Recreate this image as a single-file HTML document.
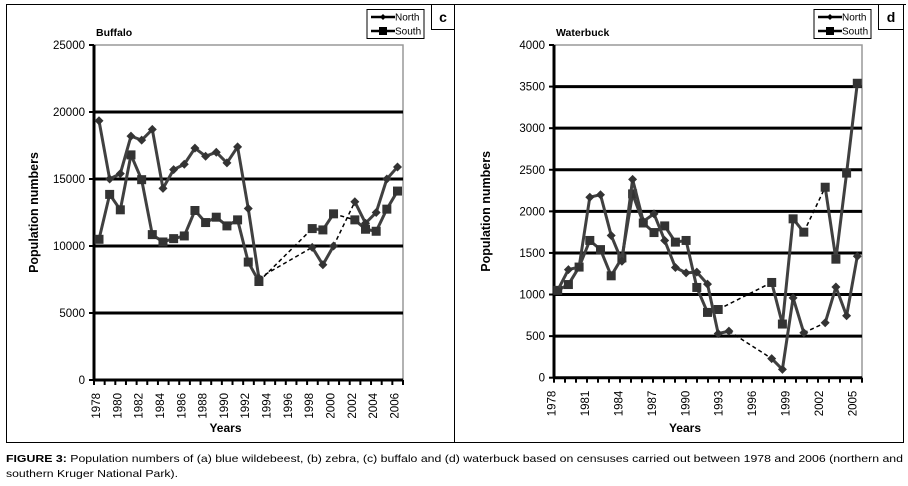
<!DOCTYPE html>
<html><head><meta charset="utf-8"><style>
html,body{margin:0;padding:0;background:#fff;}
svg{display:block;font-family:"Liberation Sans",sans-serif;}
</style></head><body>
<svg id="root" width="908" height="486" viewBox="0 0 908 486" xmlns="http://www.w3.org/2000/svg">
<g stroke="#000" stroke-width="1" fill="none">
<line x1="6" y1="4.5" x2="906" y2="4.5"/>
<line x1="6.5" y1="4" x2="6.5" y2="442"/>
<line x1="454.5" y1="4" x2="454.5" y2="442"/>
<line x1="903.5" y1="4" x2="903.5" y2="442"/>
<line x1="6" y1="442.5" x2="904" y2="442.5"/>
</g>
<g id="chartC"></g>
<g id="chartD"></g>
<text x="6" y="462" font-size="10.5" textLength="897" lengthAdjust="spacingAndGlyphs"><tspan font-weight="bold">FIGURE 3:</tspan> Population numbers of (a) blue wildebeest, (b) zebra, (c) buffalo and (d) waterbuck based on censuses carried out between 1978 and 2006 (northern and</text>
<text x="6" y="477" font-size="10.5" textLength="172" lengthAdjust="spacingAndGlyphs">southern Kruger National Park).</text>
</svg>
<script>
// Buffalo (c)
const cYears = [1978,1979,1980,1981,1982,1983,1984,1985,1986,1987,1988,1989,1990,1991,1992,1993,1998,1999,2000,2002,2003,2004,2005,2006];
const cNorth = [19350,15000,15400,18200,17900,18700,14300,15700,16100,17300,16700,17000,16200,17400,12800,7600,9900,8600,10000,13300,11700,12500,15000,15900];
const cSouth = [10500,13850,12700,16800,14950,10850,10300,10550,10750,12650,11750,12150,11500,11950,8800,7350,11300,11200,12400,11950,11250,11100,12750,14100];
const cYTicks = [0,5000,10000,15000,20000,25000];
const cXLabels = [1978,1980,1982,1984,1986,1988,1990,1992,1994,1996,1998,2000,2002,2004,2006];
// Waterbuck (d)
const dYears = [1978,1979,1980,1981,1982,1983,1984,1985,1986,1987,1988,1989,1990,1991,1992,1993,1994,1998,1999,2000,2001,2003,2004,2005,2006];
const dNorth = [1050,1300,1330,2170,2200,1710,1400,2385,1880,1970,1650,1325,1260,1270,1125,530,560,230,100,960,540,660,1090,745,1460];
const dSouthYears = [1978,1979,1980,1981,1982,1983,1984,1985,1986,1987,1988,1989,1990,1991,1992,1993,1998,1999,2000,2001,2003,2004,2005,2006];
const dSouth = [1050,1120,1330,1650,1540,1225,1440,2210,1860,1745,1825,1630,1650,1085,785,820,1145,645,1910,1750,2290,1425,2460,3540];
const dYTicks = [0,500,1000,1500,2000,2500,3000,3500,4000];
const dXLabels = [1978,1981,1984,1987,1990,1993,1996,1999,2002,2005];

const NS='http://www.w3.org/2000/svg';
function mk(tag,attrs,parent){const e=document.createElementNS(NS,tag);for(const k in attrs)e.setAttribute(k,attrs[k]);parent.appendChild(e);return e;}

function drawChart(g,cfg){
  const {left,right,top,bottom,yMax,x0,x1,y0yr,y1yr}=cfg;
  const xs=yr=>x0+(yr-y0yr)*(x1-x0)/(y1yr-y0yr);
  const ys=v=>bottom-v*(bottom-top)/yMax;
  const bg=mk('rect',{x:left,y:top,width:right-left,height:bottom-top,fill:'#fff',stroke:'#999','stroke-width':1.5},g);
  
  
  cfg.yTicks.forEach(v=>{
    if(v>0){const l=mk('line',{x1:left,x2:right,y1:ys(v),y2:ys(v),stroke:'#000','stroke-width':v===yMax?0:3},g);
      
      }
    const t=mk('text',{x:left-9,y:ys(v)+4,'text-anchor':'end','font-size':11.5},g);
    t.textContent=v;
    
    
    mk('line',{x1:left-5,x2:left,y1:ys(v),y2:ys(v),stroke:'#000','stroke-width':2},g);
  });
  const ax=mk('line',{x1:left,x2:left,y1:top,y2:bottom,stroke:'#000','stroke-width':3},g);
  
  
  const axx=mk('line',{x1:left,x2:right,y1:bottom,y2:bottom,stroke:'#000','stroke-width':3},g);
  
  
  for(let k=0;k<=cfg.nTicks;k++){const x=left+k*(right-left)/cfg.nTicks;mk('line',{x1:x,x2:x,y1:bottom,y2:bottom+5,stroke:'#000','stroke-width':2},g);}
  cfg.xLabels.forEach((yr,i)=>{
    const x=cfg.labelX(yr,i);
    const t=mk('text',{transform:`translate(${x+4},${bottom+13}) rotate(-90)`,'text-anchor':'end','font-size':11.5},g);
    t.textContent=yr;
    
    
  });
  function series(years,vals,gaps,marker,name){
    const sg=mk('g',{},g);
    
    
    let seg=[];const segs=[];
    for(let i=0;i<years.length;i++){
      if(i>0&&years[i]-years[i-1]>1){segs.push(seg);seg=[];
        const d=mk('line',{x1:xs(years[i-1]),y1:ys(vals[i-1]),x2:xs(years[i]),y2:ys(vals[i]),stroke:'#000','stroke-width':1.5,'stroke-dasharray':'4,3'},sg);
        
        }
      seg.push([xs(years[i]),ys(vals[i])]);
    }
    segs.push(seg);
    segs.forEach(s=>{const p=mk('polyline',{points:s.map(q=>q.join(',')).join(' '),fill:'none',stroke:'#404040','stroke-width':3,'stroke-linejoin':'round'},sg);
      
      });
    years.forEach((yr,i)=>{const x=xs(yr),y=ys(vals[i]);let m;
      if(marker==='d')m=mk('polygon',{points:`${x},${y-4.5} ${x+4.5},${y} ${x},${y+4.5} ${x-4.5},${y}`,fill:'#333'},sg);
      else m=mk('rect',{x:x-4.5,y:y-4.5,width:9,height:9,fill:'#333'},sg);
      
      });
  }
  series(cfg.sYears,cfg.south,null,'s','south-series');
  series(cfg.nYears,cfg.north,null,'d','north-series');
  const tt=mk('text',{x:left+2,y:top-9,'font-size':10.5,'font-weight':'bold'},g);
  tt.textContent=cfg.title;
  
  
  const yt=mk('text',{transform:`translate(${cfg.yTitleX},${(top+bottom)/2}) rotate(-90)`,'text-anchor':'middle','font-size':12.5,'font-weight':'bold'},g);
  yt.textContent='Population numbers';
  
  
  const xt=mk('text',{x:(left+right)/2-23,y:432,'text-anchor':'middle','font-size':12,'font-weight':'bold'},g);
  xt.textContent='Years';
  
  
  const lg=mk('g',{},g);
  
  
  const L=cfg.legX;
  mk('rect',{x:L,y:9.5,width:57,height:29,fill:'#fff',stroke:'#000','stroke-width':1},lg);
  [['North','d',18],['South','s',32]].forEach(([nm,mkr,y])=>{
    const e=mk('g',{},lg);
    
    
    mk('line',{x1:L+4,x2:L+28,y1:y-1,y2:y-1,stroke:'#000','stroke-width':2.5},e);
    if(mkr==='d')mk('polygon',{points:`${L+16},${y-4} ${L+19},${y-1} ${L+16},${y+2} ${L+13},${y-1}`,fill:'#000'},e);
    else mk('rect',{x:L+12,y:y-5,width:8,height:8,fill:'#000'},e);
    const t=mk('text',{x:L+28,y:y+2.5,'font-size':10},e);t.textContent=nm;
  });
  const pb=mk('g',{},g);
  
  
  mk('rect',{x:cfg.panelX+0.5,y:4.5,width:cfg.panelW,height:25,fill:'#fff',stroke:'#000','stroke-width':1},pb);
  const pt=mk('text',{x:cfg.panelX+cfg.panelW/2+0.5,y:22,'text-anchor':'middle','font-size':14,'font-weight':'bold'},pb);
  pt.textContent=cfg.panel;
}

drawChart(document.getElementById('chartC'),{
  left:94,right:403,top:45,bottom:380,yMax:25000,x0:99,x1:397.5,y0yr:1978,y1yr:2006,
  yTicks:cYTicks,xLabels:cXLabels,nTicks:29,
  labelX:(yr)=>99+(yr-1978)*10.66-3,
  nYears:cYears,north:cNorth,sYears:cYears,south:cSouth,
  title:'Buffalo',yTitleX:38,legX:367,panelX:431,panelW:23,panel:'c'
});
drawChart(document.getElementById('chartD'),{
  left:554,right:862,top:45,bottom:377.7,yMax:4000,x0:557.7,x1:857.3,y0yr:1978,y1yr:2006,
  yTicks:dYTicks,xLabels:dXLabels,nTicks:28,
  labelX:(yr,i)=>551.7+i*33.4,
  nYears:dYears,north:dNorth,sYears:dSouthYears,south:dSouth,
  title:'Waterbuck',yTitleX:490,legX:814,panelX:878,panelW:25,panel:'d'
});
</script>
</body></html>
